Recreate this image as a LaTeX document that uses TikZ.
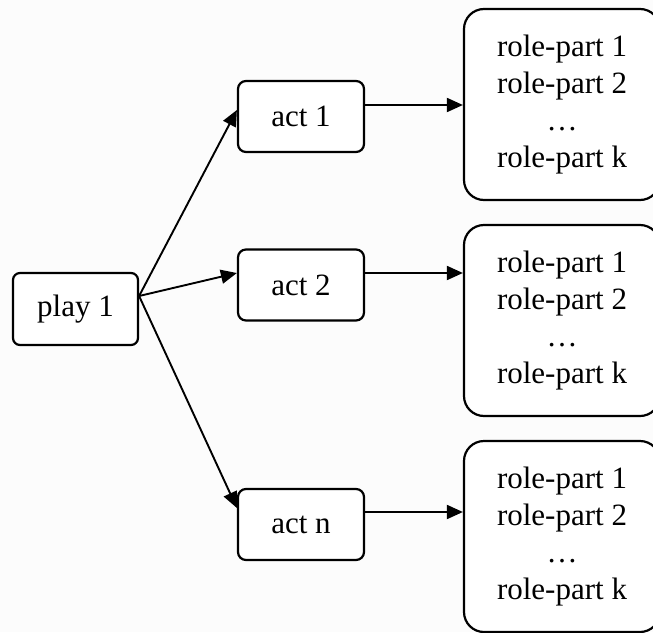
\documentclass[tikz,border=0pt]{standalone}
\usepackage{fontspec}
\setmainfont{Liberation Serif}
\usetikzlibrary{arrows.meta}

\begin{document}
\begin{tikzpicture}[
  x=1pt, y=-1pt,
  box/.style={draw=black, fill=white, line width=2.2pt, inner sep=0pt,
              font=\fontsize{31}{37}\selectfont, align=center},
  playbox/.style={box, rounded corners=7pt, minimum width=125pt, minimum height=72pt},
  actbox/.style={box, rounded corners=8pt, minimum width=126pt, minimum height=71pt},
  rolebox/.style={box, rounded corners=20pt, minimum width=196pt, minimum height=191pt},
  link/.style={draw=black, line width=1.9pt, -{Triangle[length=16pt,width=14pt]}}
]
  % page area
  \fill[white!99!black] (0,0) rectangle (653,632);
  \useasboundingbox (0,0) rectangle (653,632);

  % play
  \node[playbox] (play) at (75.5,309) {play 1};

  % acts
  \node[actbox] (act1) at (301,116.5) {act 1};
  \node[actbox] (act2) at (301,285)   {act 2};
  \node[actbox] (actn) at (301,524.5) {act n};

  % role-part lists
  \node[rolebox] (role1) at (562,104.5) {role-part 1\\role-part 2\\\dots\\role-part k};
  \node[rolebox] (role2) at (562,320.5) {role-part 1\\role-part 2\\\dots\\role-part k};
  \node[rolebox] (role3) at (562,536.5) {role-part 1\\role-part 2\\\dots\\role-part k};

  % play -> acts
  \coordinate (src) at ([yshift=13pt]play.east);
  \draw[link] (src) -- ([yshift=6.5pt]act1.west);
  \draw[link] (src) -- ([yshift=12pt]act2.west);
  \draw[link] (src) -- ([yshift=16.5pt]actn.west);

  % acts -> role-part lists
  \draw[link] ([yshift=11.5pt]act1.east) -- ([yshift=11.5pt]act1.east -| role1.west);
  \draw[link] ([yshift=12pt]act2.east)   -- ([yshift=12pt]act2.east -| role2.west);
  \draw[link] ([yshift=12.5pt]actn.east) -- ([yshift=12.5pt]actn.east -| role3.west);
\end{tikzpicture}
\end{document}
